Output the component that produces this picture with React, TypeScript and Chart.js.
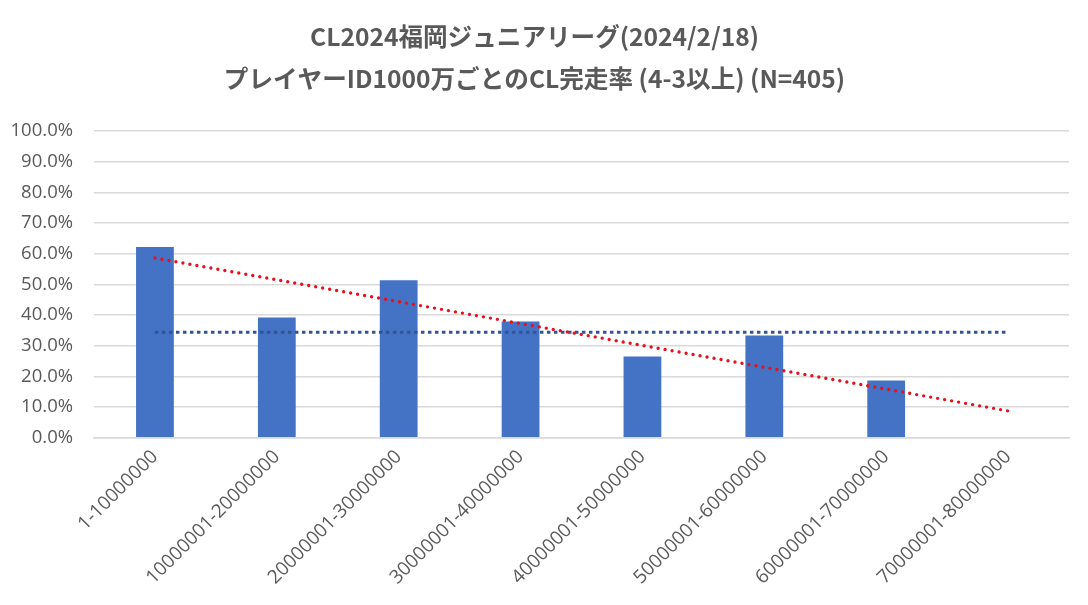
import React, { useEffect, useRef } from "react";
import { Chart, registerables } from "chart.js";

Chart.register(...registerables);

const categories = [
  "1-10000000",
  "10000001-20000000",
  "20000001-30000000",
  "30000001-40000000",
  "40000001-50000000",
  "50000001-60000000",
  "60000001-70000000",
  "70000001-80000000",
];
const completionRate = [62.2, 39.2, 51.3, 37.9, 26.5, 33.3, 18.6, 0];
const averageRate = [34.4, 34.4, 34.4, 34.4, 34.4, 34.4, 34.4, 34.4];
const trendRate = [58.6, null, null, null, null, null, null, 8.7];
const titleLines = [
  "CL2024福岡ジュニアリーグ(2024/2/18)",
  "プレイヤーID1000万ごとのCL完走率 (4-3以上) (N=405)",
];

const TEXT = "#595959";
const GRID = "#D9D9D9";
const FONT = "'Open Sans', 'Noto Sans CJK JP', sans-serif";

export default function App() {
  const ref = useRef<HTMLCanvasElement | null>(null);

  useEffect(() => {
    if (!ref.current) return;
    const chart = new Chart(ref.current, {
      type: "bar",
      data: {
        labels: categories,
        datasets: [
          {
            type: "line",
            label: "trend",
            data: trendRate as any,
            spanGaps: true,
            borderColor: "#E8101A",
            borderWidth: 3.4,
            borderDash: [0, 7.1],
            borderCapStyle: "round",
            pointRadius: 0,
            fill: false,
            order: 0,
          } as any,
          {
            type: "line",
            label: "average",
            data: averageRate,
            borderColor: "#2F5597",
            borderWidth: 3,
            borderDash: [3.5, 3.5],
            borderCapStyle: "butt",
            pointRadius: 0,
            fill: false,
            order: 1,
          } as any,
          {
            type: "bar",
            label: "rate",
            data: completionRate,
            backgroundColor: "#4472C4",
            categoryPercentage: 1,
            barPercentage: 0.31,
            order: 2,
          },
        ],
      },
      options: {
        animation: false,
        responsive: true,
        maintainAspectRatio: false,
        layout: { padding: { left: 0, right: 19, top: 0, bottom: 8 } },
        plugins: {
          legend: { display: false },
          tooltip: { enabled: false },
          title: {
            display: true,
            text: titleLines,
            color: TEXT,
            font: { family: "'Noto Sans CJK JP', sans-serif", size: 24.6, weight: "bold", lineHeight: 42 / 24.6 },
            padding: { top: 16, bottom: 31 },
          },
        },
        scales: {
          x: {
            grid: { display: false, drawTicks: false },
            border: { display: true, color: GRID, width: 1.5 },
            ticks: {
              color: TEXT,
              font: { family: FONT, size: 19 },
              maxRotation: 45,
              minRotation: 45,
              padding: 8,
              autoSkip: false,
            },
            afterFit: (s: any) => {
              s.paddingLeft = 0;
              s.paddingRight = 0;
            },
          },
          y: {
            min: 0,
            max: 100,
            grid: { color: GRID, lineWidth: 1.5, drawTicks: false },
            border: { display: false },
            ticks: {
              stepSize: 10,
              color: TEXT,
              font: { family: FONT, size: 18.5 },
              padding: 21,
              callback: (v: any) => Number(v).toFixed(1) + "%",
            },
            afterFit: (s: any) => {
              s.width = 94;
            },
          },
        },
      },
    });
    return () => chart.destroy();
  }, []);

  return (
    <div style={{ position: "fixed", left: 0, top: 0, width: 1088, height: 605, background: "#fff" }}>
      <canvas ref={ref} />
    </div>
  );
}
